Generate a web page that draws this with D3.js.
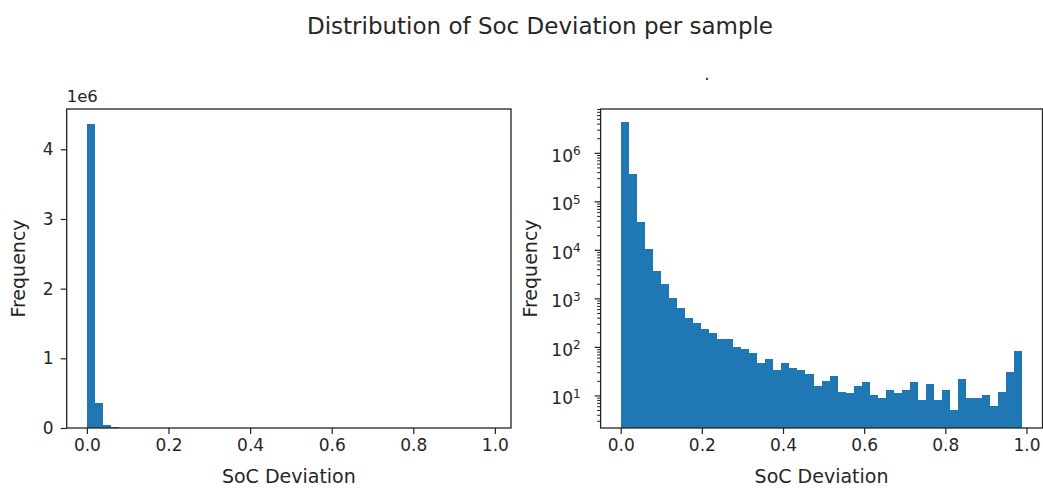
<!DOCTYPE html>
<html>
<head>
<meta charset="utf-8">
<script src="https://cdn.jsdelivr.net/npm/d3@7"></script>
<style>
  body { margin: 0; background: #fff; }
  svg text { font-family: "DejaVu Sans", sans-serif; fill: #262626; }
</style>
</head>
<body>
<svg id="chart"></svg>
<script>
const width = 1043;
const height = 488;

// histogram of SoC deviation, 50 bins over [0, 0.99]
const binStart = 0;
const binEnd = 0.99;
const counts = [
    4360000, 360000, 37600, 10200, 3700, 1980, 1000, 630, 400, 305,
    230, 190, 146, 146, 99, 91, 75, 47, 56, 33,
    47, 36, 33, 27, 16, 20, 25, 12, 11, 16,
    19, 10, 9, 13, 11, 13, 19, 8, 17, 8,
    13, 5, 22, 9, 9, 10, 6, 12, 30, 81
];
const xTicks = [0.0, 0.2, 0.4, 0.6, 0.8, 1.0];
const linTicks = [0, 1, 2, 3, 4];        // in units of 1e6
const logTicks = [1, 2, 3, 4, 5, 6];     // exponents

const bins = counts.map((c, i) => ({
    x0: binStart + (binEnd - binStart) * i / counts.length,
    x1: binStart + (binEnd - binStart) * (i + 1) / counts.length,
    count: c
}));

const svg = d3.select('#chart')
    .attr('width', width)
    .attr('height', height);

const barColor = '#1f77b4';
const plotTop = 109, plotBottom = 428;
const xDomain = [-0.0495, 1.0395];
const tickFont = '17px';
const labelFont = '19px';

svg.append('text')
    .attr('x', 540)
    .attr('y', 34)
    .attr('text-anchor', 'middle')
    .style('font-size', '23px')
    .text('Distribution of Soc Deviation per sample');

function xAxis(g, x) {
    g.attr('transform', `translate(0, ${plotBottom})`)
        .call(d3.axisBottom(x).tickValues(xTicks).tickFormat(d3.format('.1f')).tickSize(6).tickPadding(5))
        .call(a => a.select('.domain').remove())
        .call(a => a.selectAll('line').attr('stroke', '#222').attr('stroke-width', 1.2))
        .call(a => a.selectAll('text').style('font-size', tickFont).attr('fill', '#262626'));
}

function frame(g, x0, x1) {
    g.append('rect')
        .attr('x', x0).attr('y', plotTop)
        .attr('width', x1 - x0).attr('height', plotBottom - plotTop)
        .attr('fill', 'none')
        .attr('stroke', '#222')
        .attr('stroke-width', 1.3);
}

function labels(g, x0, x1, yLabelX) {
    g.append('text')
        .attr('x', (x0 + x1) / 2)
        .attr('y', 483)
        .attr('text-anchor', 'middle')
        .style('font-size', labelFont)
        .text('SoC Deviation');
    g.append('text')
        .attr('transform', `translate(${yLabelX}, ${(plotTop + plotBottom) / 2}) rotate(-90)`)
        .attr('text-anchor', 'middle')
        .style('font-size', labelFont)
        .text('Frequency');
}

function drawBars(g, x, y) {
    g.append('g')
        .attr('shape-rendering', 'crispEdges')
        .selectAll('rect')
        .data(bins)
        .enter()
        .append('rect')
        .attr('x', d => x(d.x0))
        .attr('width', d => x(d.x1) - x(d.x0))
        .attr('y', d => y(d.count))
        .attr('height', d => plotBottom - y(d.count))
        .attr('fill', barColor);
}

// left panel: linear scale
{
    const x0 = 66.7, x1 = 511;
    const g = svg.append('g');
    const x = d3.scaleLinear().domain(xDomain).range([x0, x1]);
    const y = d3.scaleLinear().domain([0, d3.max(counts) * 1.05]).range([plotBottom, plotTop]);

    drawBars(g, x, y);

    g.append('g')
        .attr('transform', `translate(${x0}, 0)`)
        .call(d3.axisLeft(y).tickValues(linTicks.map(t => t * 1e6)).tickFormat(d => d / 1e6).tickSize(6).tickPadding(7))
        .call(a => a.select('.domain').remove())
        .call(a => a.selectAll('line').attr('stroke', '#222').attr('stroke-width', 1.2))
        .call(a => a.selectAll('text').style('font-size', tickFont).attr('fill', '#262626'));

    g.append('g').call(a => xAxis(a, x));
    frame(g, x0, x1);
    labels(g, x0, x1, 25);

    g.append('text')
        .attr('x', x0)
        .attr('y', 102)
        .style('font-size', '16.5px')
        .text('1e6');
}

// right panel: log scale
{
    const x0 = 600.6, x1 = 1042.5;
    const g = svg.append('g');
    const x = d3.scaleLinear().domain(xDomain).range([x0, x1]);
    const y = d3.scaleLog().domain([2.13, 8e6]).range([plotBottom, plotTop]);

    drawBars(g, x, y);

    const minor = [];
    for (let e = 0; e <= 6; e++) {
        for (let m = 2; m <= 9; m++) {
            const v = m * Math.pow(10, e);
            if (v >= y.domain()[0] && v <= y.domain()[1]) minor.push(v);
        }
    }
    g.append('g')
        .attr('transform', `translate(${x0}, 0)`)
        .call(d3.axisLeft(y).tickValues(minor).tickFormat('').tickSize(3.5))
        .call(a => a.select('.domain').remove())
        .call(a => a.selectAll('line').attr('stroke', '#222').attr('stroke-width', 1));

    const major = g.append('g')
        .attr('transform', `translate(${x0}, 0)`)
        .call(d3.axisLeft(y).tickValues(logTicks.map(e => Math.pow(10, e))).tickFormat('').tickSize(6))
        .call(a => a.select('.domain').remove())
        .call(a => a.selectAll('line').attr('stroke', '#222').attr('stroke-width', 1.2));

    major.selectAll('.tick').each(function(d) {
        const t = d3.select(this).append('text')
            .attr('x', -20)
            .attr('dy', '0.5em')
            .attr('text-anchor', 'end')
            .attr('fill', '#262626')
            .style('font-size', tickFont);
        t.append('tspan').text('10');
        t.append('tspan')
            .attr('dy', '-0.55em')
            .style('font-size', '12px')
            .text(Math.round(Math.log10(d)));
    });

    g.append('g').call(a => xAxis(a, x));
    frame(g, x0, x1);
    labels(g, x0, x1, 537);

    g.append('text')
        .attr('x', 707)
        .attr('y', 80)
        .attr('text-anchor', 'middle')
        .style('font-size', '17px')
        .text('.');
}
</script>
</body>
</html>
